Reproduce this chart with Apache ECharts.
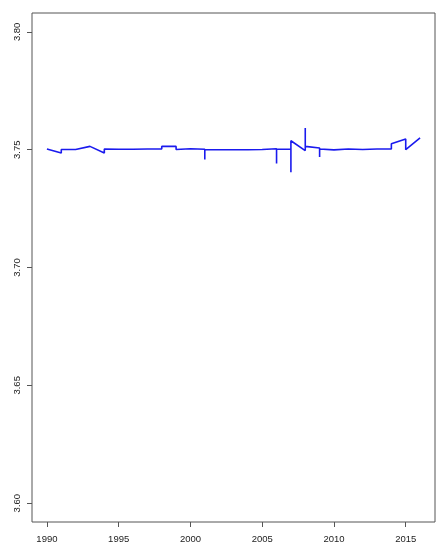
<!DOCTYPE html>
<html>
<head>
<meta charset="utf-8">
<script src="https://cdn.jsdelivr.net/npm/echarts@6/dist/echarts.min.js"></script>
<style>
    html, body { margin: 0; padding: 0; background: #ffffff; }
    #chart { width: 444px; height: 550px; }
</style>
</head>
<body>
<div id="chart"></div>
<script>
    // year positions (repeated years are vertical jumps in the series)
    const years = [
        1990, 1991, 1991, 1992, 1992, 1993, 1994, 1994, 1995, 1996, 1997,
        1998, 1998, 1999, 1999, 2000, 2001, 2001, 2001, 2002, 2003, 2004, 2005,
        2006, 2006, 2006, 2007, 2007, 2007, 2008, 2008, 2008, 2009, 2009, 2009,
        2010, 2011, 2012, 2013, 2014, 2014, 2015, 2015, 2016
    ];
    const values = [
        3.7503, 3.7486, 3.7501, 3.7501, 3.7503, 3.7514, 3.7486, 3.7503, 3.7502, 3.7502, 3.7503,
        3.7503, 3.7514, 3.7514, 3.7501, 3.7504, 3.7502, 3.7458, 3.7500, 3.7500, 3.7500, 3.7500, 3.7501,
        3.7504, 3.7441, 3.7502, 3.7503, 3.7404, 3.7538, 3.7496, 3.7592, 3.7514, 3.7507, 3.7469, 3.7503,
        3.7499, 3.7503, 3.7501, 3.7503, 3.7503, 3.7525, 3.7545, 3.7500, 3.7550
    ];
    const xTicks = [1990, 1995, 2000, 2005, 2010, 2015];
    const yTicks = [3.60, 3.65, 3.70, 3.75, 3.80];

    const myChart = echarts.init(document.getElementById('chart'));

    const labelFont = {
        color: '#222222',
        fontFamily: 'Liberation Sans',
        fontSize: 9.5
    };

    myChart.setOption({
        animation: false,
        grid: {
            left: 32,
            right: 9,
            top: 13,
            bottom: 28,
            show: true,
            borderColor: '#555555',
            borderWidth: 1
        },
        xAxis: {
            type: 'value',
            min: 1988.96,
            max: 2017.04,
            splitLine: { show: false },
            axisLine: { show: false },
            axisTick: {
                customValues: xTicks,
                length: 5,
                lineStyle: { color: '#555555' }
            },
            axisLabel: Object.assign({
                customValues: xTicks,
                margin: 12,
                formatter: function (v) { return String(v); }
            }, labelFont)
        },
        yAxis: {
            type: 'value',
            min: 3.592,
            max: 3.808,
            splitLine: { show: false },
            axisLine: { show: false },
            axisTick: {
                customValues: yTicks,
                length: 5,
                lineStyle: { color: '#555555' }
            },
            axisLabel: Object.assign({
                customValues: yTicks,
                rotate: 90,
                margin: 10,
                formatter: function (v) { return v.toFixed(2); }
            }, labelFont)
        },
        series: [
            {
                type: 'line',
                data: years.map(function (y, i) { return [y, values[i]]; }),
                showSymbol: false,
                symbol: 'none',
                lineStyle: { color: '#1a1aee', width: 1.6 }
            }
        ]
    });
</script>
</body>
</html>
